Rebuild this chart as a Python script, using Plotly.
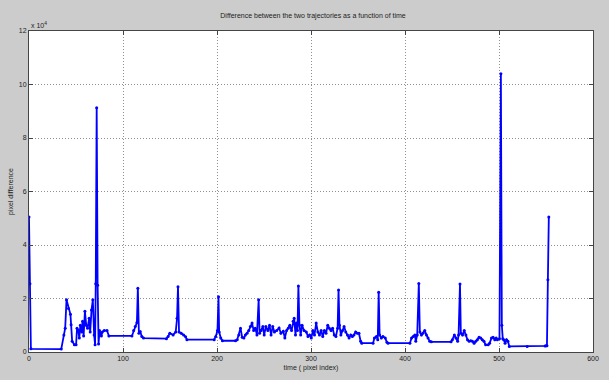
import plotly.graph_objects as go

# time (pixel index) and pixel difference (in units of 1e4)
time = [0, 1, 2, 34.3, 37.1, 38.5, 39.9, 42, 44.1, 44.8, 45.9, 48.3, 50.1, 51.1, 52.5, 53.5,
        54.6, 56, 57, 58.1, 59.5, 60.9, 62.3, 64, 65.1, 66.5, 67.9, 69.3, 70.3, 71, 72, 73,
        74, 75, 77, 78, 80, 83, 85, 109.5, 111.3, 113, 114.8, 115.8, 116.9, 118.3, 120, 121.8,
        146.2, 148, 149.8, 153.3, 156.1, 157.5, 158.5, 159.6, 162, 164.5, 166.6, 168, 197,
        198.7, 200.5, 201.6, 202.3, 204, 205.8, 219.7, 221.5, 223.3, 225, 226.8, 228.6, 230.2,
        232, 233.8, 235.5, 237.3, 239, 240.7, 242.5, 244.3, 245.3, 247, 248.8, 250.2, 252,
        254.1, 255.9, 257.5, 259.3, 261.1, 263.5, 266, 268, 270.5, 272.2, 274, 275.8, 277.5,
        279.3, 281, 282.1, 283.5, 284.5, 285.6, 286.6, 287.7, 289, 290.5, 292.6, 295, 296.8,
        298.5, 300.3, 302, 303.7, 305.5, 307.3, 309, 310.8, 312.5, 314.2, 316, 317.8, 319.5,
        321.3, 323, 324.7, 326.5, 328.3, 329.3, 330.3, 331.8, 333.5, 335.2, 337, 338.8, 340.5,
        342.3, 344, 345.7, 347.5, 349.3, 351, 352.8, 354, 366, 367.5, 369.6, 371, 372, 373,
        374.8, 376.5, 379, 380.8, 382, 405.2, 407, 408.8, 410.5, 411.5, 413, 414.7, 415.8,
        417.5, 419.2, 421, 422.8, 424.5, 426.3, 428, 449, 450.4, 452.5, 454.2, 456, 457, 458.5,
        459.4, 461.2, 463, 464.8, 466.5, 468.2, 470, 471.7, 473.5, 475.3, 477, 478.8, 480.5,
        482.2, 484, 485.8, 488.5, 490, 492, 493.7, 495.5, 497, 498.3, 500.5, 502, 503,
        504, 505, 506.5, 508, 509.5, 511, 530, 549, 550, 551, 552, 553]
diff = [5.05, 2.55, 0.12, 0.11, 0.64, 0.89, 1.95, 1.63, 1.41, 1.02, 0.4, 0.27, 0.27, 0.89, 0.8, 0.52,
        1.0, 0.75, 1.15, 0.6, 1.52, 1.0, 0.89, 1.26, 0.75, 1.57, 1.95, 0.64, 0.27, 2.55, 9.13, 2.5,
        0.3, 0.8, 0.6, 0.75, 0.8, 0.8, 0.6, 0.6, 0.8, 0.95, 1.1, 2.38, 0.7, 0.77, 0.58, 0.52,
        0.5, 0.58, 0.7, 0.64, 0.75, 1.26, 2.44, 0.75, 0.7, 0.64, 0.57, 0.46, 0.46,
        0.58, 0.8, 2.07, 0.75, 0.52, 0.42, 0.42, 0.46, 0.64, 0.89, 0.55, 0.52, 0.64,
        0.7, 0.8, 0.95, 1.08, 0.8, 0.89, 0.64, 1.95, 0.7, 0.8, 0.95, 0.64, 0.95,
        0.8, 1.0, 0.64, 0.95, 0.75, 0.8, 0.9, 0.7, 0.78, 0.52, 0.8, 0.89, 1.0,
        0.8, 1.15, 1.26, 0.64, 1.08, 0.8, 2.47, 1.0, 0.64, 1.0, 0.8, 0.75, 0.58,
        0.64, 0.52, 0.8, 0.64, 1.08, 0.75, 0.64, 0.8, 0.58, 0.8, 0.7, 1.0, 0.89,
        0.8, 0.89, 0.64, 0.58, 0.89, 2.32, 1.0, 0.64, 0.8, 0.95, 0.75, 0.64, 0.52,
        0.64, 0.58, 0.64, 0.75, 0.7, 0.7, 0.4, 0.33, 0.33, 0.52, 0.58, 0.46, 2.23, 0.64,
        0.52, 0.58, 0.52, 0.36, 0.33, 0.33, 0.52, 0.58, 0.64, 0.4, 0.64, 2.56, 0.75,
        0.64, 0.7, 0.8, 0.64, 0.52, 0.4, 0.38, 0.38, 0.46, 0.64, 0.52, 0.4, 0.64, 2.54,
        0.7, 0.64, 0.8, 0.64, 0.46, 0.4, 0.42, 0.4, 0.33, 0.4, 0.46, 0.55, 0.52,
        0.46, 0.4, 0.27, 0.27, 0.33, 0.52, 0.55, 0.46, 0.52, 0.46, 0.5, 10.4, 1.0,
        0.5, 0.46, 0.33, 0.46, 0.4, 0.21, 0.21, 0.22, 0.23, 0.23, 2.7, 5.05]

x_ticks = [0, 100, 200, 300, 400, 500, 600]
y_ticks = [0, 2, 4, 6, 8, 10, 12]

FONT = "Liberation Sans, Arial, sans-serif"

fig = go.Figure()
fig.add_trace(go.Scatter(
    x=time, y=diff, mode="lines+markers",
    line=dict(color="#0000ff", width=1.8),
    marker=dict(color="#0000ff", size=3),
    showlegend=False, hoverinfo="skip"))

axis_common = dict(
    showgrid=True, gridcolor="#909090", griddash="1px,2px", gridwidth=1,
    showline=True, linecolor="#444444", linewidth=1, mirror="ticks",
    ticks="inside", ticklen=4, tickcolor="#444444",
    zeroline=False, tickfont=dict(family=FONT, size=7, color="#222222"),
)

fig.update_layout(
    width=609, height=380,
    margin=dict(l=28, r=10, t=31, b=26),
    paper_bgcolor="#cccccc", plot_bgcolor="#ffffff",
    title=dict(text="Difference between the two trajectories as a function of time",
               x=0.514, xanchor="center", y=1 - 16 / 380, yanchor="middle",
               font=dict(family=FONT, size=7, color="#222222")),
    xaxis=dict(range=[0, 600], tickvals=x_ticks, ticktext=[str(v) for v in x_ticks],
               title=dict(text="time ( pixel index)", standoff=3,
                          font=dict(family=FONT, size=7, color="#222222")),
               **axis_common),
    yaxis=dict(range=[0, 12], tickvals=y_ticks, ticktext=[str(v) for v in y_ticks],
               title=dict(text="pixel difference", standoff=4,
                          font=dict(family=FONT, size=7, color="#222222")),
               **axis_common),
    annotations=[dict(text="x 10<sup>4</sup>", xref="paper", yref="paper",
                      x=0, y=1, xanchor="left", yanchor="bottom", showarrow=False,
                      font=dict(family=FONT, size=7, color="#222222"))],
)

fig.write_html("out.html")
